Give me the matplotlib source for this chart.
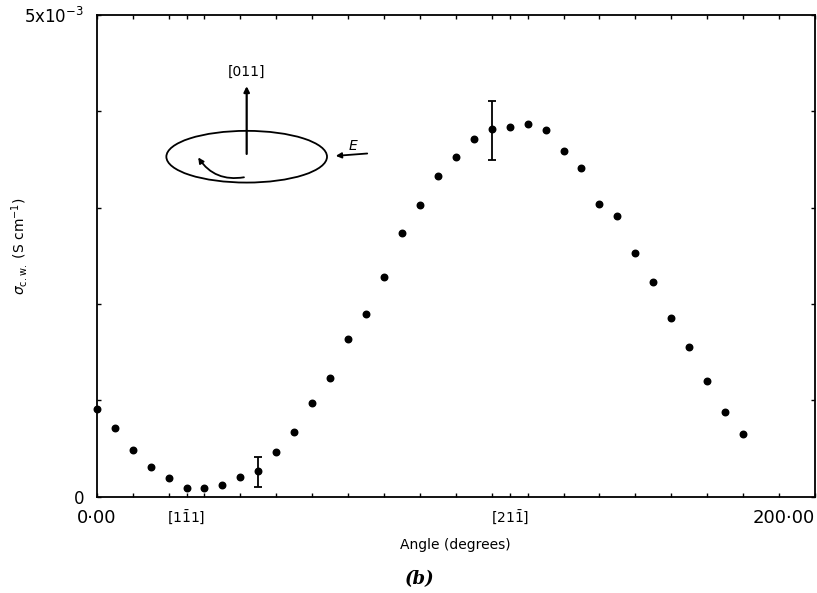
import numpy as np
import matplotlib.pyplot as plt
from matplotlib.patches import Ellipse, FancyArrowPatch

plt.rcParams['mathtext.fontset'] = 'dejavusans'

# angle of E in the (011) plane, degrees
angle = np.arange(0, 181, 5)
# sigma c.w., units of 1e-3 S/cm
sigma = [0.909, 0.714, 0.480, 0.306, 0.192, 0.091, 0.091, 0.119, 0.199, 0.262,
         0.459, 0.673, 0.968, 1.231, 1.639, 1.898, 2.279, 2.739, 3.027, 3.331,
         3.525, 3.716, 3.813, 3.834, 3.868, 3.809, 3.585, 3.414, 3.037, 2.913,
         2.532, 2.224, 1.857, 1.556, 1.203, 0.881, 0.652]

# the two points with error bars
errAngle = [45, 110]
errLow = [0.096, 3.491]
errHigh = [0.413, 4.105]

xTicks = [0, 25, 115, 200]
xTickLabels = ['0·00', r'[1$\bar{\mathrm{1}}$1]', r'[21$\bar{\mathrm{1}}$]', '200·00']
yTicks = [0, 5]
yTickLabels = ['0', r'5x10$^{-3}$']

fig = plt.figure(figsize=(8.17, 5.93), dpi=100)
ax = fig.add_axes([0.1184, 0.1627, 0.879, 0.812])

ax.plot(angle, sigma, 'o', color='black', markersize=4.7, clip_on=False, zorder=3)

errIdx = [list(angle).index(a) for a in errAngle]
errMid = [sigma[i] for i in errIdx]
yerr = [[m - lo for m, lo in zip(errMid, errLow)], [hi - m for m, hi in zip(errMid, errHigh)]]
ax.errorbar(errAngle, errMid, yerr=yerr, fmt='none', ecolor='black', elinewidth=1.3,
            capsize=3, capthick=1.3)

ax.set_xlim(0, 200)
ax.set_ylim(0, 5)
ax.set_xticks(xTicks)
ax.set_xticklabels(xTickLabels)
ax.set_xticks(np.arange(0, 201, 10), minor=True)
ax.set_yticks(yTicks)
ax.set_yticklabels(yTickLabels)
ax.set_yticks(np.arange(0, 5.1, 1), minor=True)
ax.tick_params(which='both', direction='in', top=True, right=True, length=3, width=1)
ax.tick_params(axis='x', which='major', labelsize=10, pad=9)
ax.tick_params(axis='y', which='major', labelsize=12, pad=9)
for lbl in ax.get_xticklabels():
  if lbl.get_text() in ('0·00', '200·00'):
    lbl.set_fontsize(13)
ax.get_xticklabels()[-1].set_ha('right')

for s in ax.spines.values():
  s.set_linewidth(1.3)

ax.set_xlabel('Angle (degrees)', fontsize=10, labelpad=8)
ax.set_ylabel(r'$\sigma_{\mathrm{c.w.}}$ (S cm$^{-1}$)', fontsize=10)
ax.yaxis.set_label_coords(-0.093, 0.52)

# little sketch of the sample rotation
ax.add_patch(Ellipse((0.2088, 0.7057), 0.2237, 0.1074, transform=ax.transAxes,
                     fill=False, color='black', lw=1.3))
ax.annotate('', xy=(0.2088, 0.858), xytext=(0.2088, 0.7057), xycoords='axes fraction',
            arrowprops=dict(arrowstyle='-|>', color='black', lw=1.6, mutation_scale=8))
ax.text(0.2088, 0.882, '[011]', transform=ax.transAxes, ha='center', va='center', fontsize=10)
ax.add_patch(FancyArrowPatch((0.2088, 0.664), (0.1392, 0.709), transform=ax.transAxes,
                             connectionstyle='arc3,rad=-0.35', arrowstyle='-|>',
                             color='black', lw=1.3, mutation_scale=8))
ax.annotate('', xy=(0.329, 0.707), xytext=(0.3805, 0.7128), xycoords='axes fraction',
            arrowprops=dict(arrowstyle='-|>', color='black', lw=1.3, mutation_scale=8))
ax.text(0.357, 0.728, 'E', transform=ax.transAxes, ha='center', va='center',
        fontsize=10, style='italic')

fig.text(0.514, 0.0236, '(b)', ha='center', va='center', fontsize=13,
         family='DejaVu Serif', style='italic', weight='bold')

fig.savefig('out.png', dpi=100)
